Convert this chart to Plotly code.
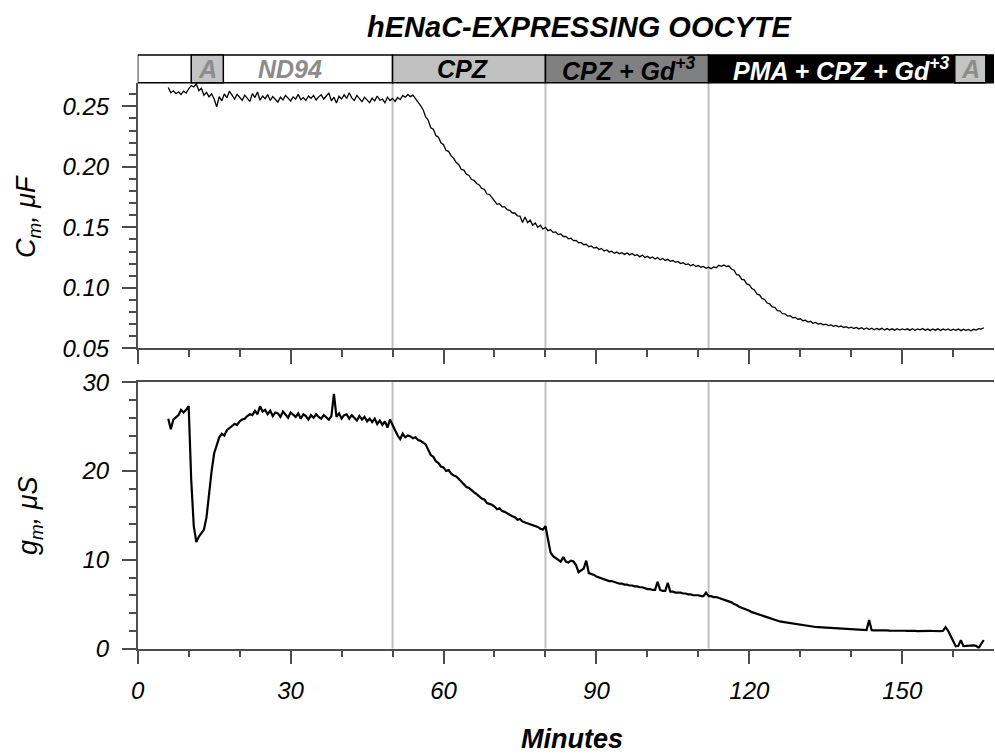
import numpy as np
import plotly.graph_objects as go

FONT = "Arial, 'Liberation Sans', sans-serif"

# Recording clock: samples every half minute starting at 6 min
T_START = 6.0
T_STEP = 0.5

# Membrane capacitance, uF (one row = 5 minutes)
cm_uF = [
    0.2655, 0.2612, 0.2628, 0.2604, 0.2619, 0.2598, 0.2625, 0.2610, 0.2645, 0.2672,
    0.2660, 0.2685, 0.2630, 0.2648, 0.2592, 0.2615, 0.2578, 0.2603, 0.2560, 0.2495,
    0.2580, 0.2545, 0.2602, 0.2570, 0.2625, 0.2588, 0.2560, 0.2598, 0.2575, 0.2550,
    0.2592, 0.2565, 0.2540, 0.2605, 0.2572, 0.2618, 0.2550, 0.2585, 0.2563, 0.2597,
    0.2548, 0.2580, 0.2560, 0.2535, 0.2575, 0.2552, 0.2590, 0.2568, 0.2545, 0.2578,
    0.2560, 0.2598, 0.2555, 0.2572, 0.2548, 0.2585, 0.2566, 0.2590, 0.2552, 0.2578,
    0.2595, 0.2560, 0.2582, 0.2610, 0.2545, 0.2575, 0.2528, 0.2583, 0.2560, 0.2595,
    0.2565, 0.2612, 0.2570, 0.2548, 0.2590, 0.2562, 0.2538, 0.2575, 0.2555, 0.2530,
    0.2568, 0.2545, 0.2585, 0.2550, 0.2560, 0.2530, 0.2575, 0.2548, 0.2565, 0.2540,
    0.2572, 0.2555, 0.2590, 0.2575, 0.2598, 0.2580, 0.2592, 0.2565, 0.2540, 0.2505,
    0.2472, 0.2412, 0.2385, 0.2322, 0.2310, 0.2258, 0.2245, 0.2198, 0.2182, 0.2135,
    0.2128, 0.2090, 0.2070, 0.2035, 0.2018, 0.1978, 0.1972, 0.1938, 0.1928, 0.1895,
    0.1888, 0.1862, 0.1850, 0.1822, 0.1815, 0.1775, 0.1772, 0.1740, 0.1718, 0.1690,
    0.1695, 0.1668, 0.1668, 0.1645, 0.1640, 0.1618, 0.1618, 0.1595, 0.1592, 0.1540,
    0.1585, 0.1538, 0.1560, 0.1518, 0.1535, 0.1500, 0.1518, 0.1485, 0.1500, 0.1472,
    0.1480, 0.1458, 0.1462, 0.1440, 0.1445, 0.1424, 0.1425, 0.1405, 0.1410, 0.1390,
    0.1392, 0.1372, 0.1375, 0.1356, 0.1360, 0.1340, 0.1346, 0.1328, 0.1335, 0.1316,
    0.1324, 0.1305, 0.1313, 0.1296, 0.1302, 0.1286, 0.1295, 0.1282, 0.1290, 0.1276,
    0.1288, 0.1272, 0.1284, 0.1266, 0.1274, 0.1256, 0.1270, 0.1250, 0.1260, 0.1245,
    0.1255, 0.1238, 0.1250, 0.1232, 0.1242, 0.1226, 0.1235, 0.1219, 0.1225, 0.1210,
    0.1218, 0.1200, 0.1208, 0.1192, 0.1198, 0.1183, 0.1192, 0.1176, 0.1184, 0.1170,
    0.1176, 0.1162, 0.1170, 0.1158, 0.1172, 0.1166, 0.1186, 0.1178, 0.1188, 0.1176,
    0.1180, 0.1155, 0.1145, 0.1108, 0.1104, 0.1070, 0.1066, 0.1032, 0.1024, 0.0994,
    0.0982, 0.0948, 0.0942, 0.0910, 0.0905, 0.0874, 0.0868, 0.0842, 0.0838, 0.0812,
    0.0810, 0.0786, 0.0785, 0.0766, 0.0770, 0.0752, 0.0756, 0.0740, 0.0744, 0.0728,
    0.0732, 0.0717, 0.0723, 0.0707, 0.0714, 0.0700, 0.0706, 0.0694, 0.0700, 0.0688,
    0.0694, 0.0681, 0.0689, 0.0677, 0.0684, 0.0672, 0.0679, 0.0667, 0.0675, 0.0664,
    0.0672, 0.0660, 0.0670, 0.0657, 0.0668, 0.0655, 0.0666, 0.0653, 0.0664, 0.0654,
    0.0665, 0.0651, 0.0663, 0.0652, 0.0661, 0.0650, 0.0662, 0.0651, 0.0660, 0.0652,
    0.0661, 0.0650, 0.0662, 0.0649, 0.0660, 0.0652, 0.0663, 0.0650, 0.0659, 0.0648,
    0.0660, 0.0650, 0.0661, 0.0648, 0.0659, 0.0651, 0.0660, 0.0647, 0.0658, 0.0649,
    0.0659, 0.0646, 0.0657, 0.0648, 0.0656, 0.0645, 0.0657, 0.0650, 0.0662, 0.0658,
    0.0670,
]

# Membrane conductance, uS (one row = 5 minutes)
gm_uS = [
    25.9, 24.7, 25.8, 26.0, 26.3, 26.9, 26.6, 26.9, 27.3, 19.0,
    13.8, 12.0, 12.6, 13.0, 13.4, 14.8, 17.8, 20.0, 22.0, 23.0,
    23.8, 24.2, 24.0, 24.6, 24.8, 25.0, 25.3, 25.2, 25.6, 25.8,
    25.9, 26.2, 26.4, 26.3, 26.8, 26.4, 27.3, 26.7, 26.9, 26.4,
    26.8, 26.2, 26.6, 26.5, 26.1, 26.7, 26.4, 26.0, 26.6, 26.3,
    26.1, 26.5, 25.9, 26.4, 26.2, 25.8, 26.3, 26.0, 26.4, 26.1,
    25.9, 26.3, 26.0, 25.8, 26.2, 28.7, 26.1, 26.5, 25.9, 26.3,
    26.4, 25.9, 26.3, 26.0, 25.7, 26.2, 25.8, 26.1, 25.6, 25.9,
    25.5, 25.9, 25.3, 25.7, 25.2, 25.6, 24.9, 25.8, 25.1, 24.6,
    24.0, 23.6, 24.2, 23.8, 24.0, 23.9, 23.7, 23.8, 23.5, 23.4,
    23.2, 23.0, 22.4, 21.8, 21.6, 21.1, 20.9, 20.5, 20.4, 20.0,
    20.1, 19.7, 19.5, 19.4, 19.1, 18.8, 18.6, 18.2, 18.1, 17.8,
    17.6, 17.4, 17.1, 16.9, 16.8, 16.4, 16.3, 16.2, 16.0, 15.7,
    15.8, 15.5, 15.4, 15.2, 15.0, 14.9, 14.8, 14.5, 14.6, 14.3,
    14.2, 14.1, 14.0, 13.9, 13.8, 13.7, 13.5, 13.4, 13.8, 12.4,
    10.8, 10.4, 10.2, 10.0, 9.8, 10.3, 9.8, 9.7, 9.9, 9.8,
    9.4, 8.6, 8.8, 9.0, 9.9, 8.5, 8.4, 8.3, 8.1, 8.0,
    7.9, 7.8, 7.7, 7.6, 7.6, 7.5, 7.4, 7.3, 7.3, 7.2,
    7.2, 7.1, 7.1, 7.0, 7.0, 6.9, 6.9, 6.8, 6.7, 6.7,
    6.6, 6.6, 7.5, 6.6, 6.5, 6.5, 7.4, 6.4, 6.4, 6.3,
    6.3, 6.3, 6.2, 6.2, 6.1, 6.1, 6.0, 6.0, 6.0, 5.9,
    5.9, 6.3, 5.9, 5.9, 5.8, 5.8, 5.7, 5.6, 5.5, 5.4,
    5.3, 5.2, 5.0, 4.9, 4.7, 4.6, 4.5, 4.4, 4.25, 4.1,
    4.0, 3.9, 3.8, 3.7, 3.6, 3.5, 3.4, 3.3, 3.2, 3.1,
    3.05, 3.0, 2.95, 2.9, 2.85, 2.8, 2.75, 2.7, 2.65, 2.6,
    2.56, 2.52, 2.5, 2.46, 2.42, 2.4, 2.38, 2.35, 2.33, 2.3,
    2.28, 2.26, 2.25, 2.23, 2.2, 2.19, 2.18, 2.16, 2.14, 2.13,
    2.12, 2.1, 2.11, 2.08, 2.07, 3.2, 2.06, 2.05, 2.06, 2.04,
    2.05, 2.03, 2.04, 2.02, 2.03, 2.01, 2.0, 2.02, 1.99, 2.0,
    1.98, 2.0, 1.97, 1.99, 1.96, 1.98, 1.97, 1.99, 1.96, 1.98,
    1.97, 1.95, 1.98, 1.96, 2.0, 2.4, 2.0, 1.4, 0.8, 0.25,
    0.3, 0.95, 0.26, 0.3, 0.28, 0.32, 0.35, 0.3, 0.05, 0.55,
    0.95,
]

# Solution changes (minutes)
solution_changes = [50, 80, 112]

# Perfusion bar: start, end, fill
bar_segments = [
    (0, 50, "white"),
    (50, 80, "#c0c0c0"),
    (80, 112, "#808080"),
    (112, 168, "black"),
    (10.5, 16.8, "#c4c4c4"),
    (160.3, 166.4, "#c4c4c4"),
]
bar_labels = ["A", "ND94", "CPZ", "CPZ + Gd<sup>+3</sup>", "PMA + CPZ + Gd<sup>+3</sup>", "A"]
bar_label_x = [13.65, 29.9, 63.8, 96.3, 138.0, 163.35]
bar_label_colors = ["#8c8c8c", "#8c8c8c", "black", "black", "white", "#8c8c8c"]

X_RANGE = [0, 168]
CM_RANGE = [0.05, 0.2695]
GM_RANGE = [0, 30]

t_cm = T_START + T_STEP * np.arange(len(cm_uF))
t_gm = T_START + T_STEP * np.arange(len(gm_uS))

W, H = 995, 755
X_DOM = [137.7 / W, 994 / W]
TOP_DOM = [1 - 348.3 / H, 1 - 82.7 / H]
BOT_DOM = [1 - 648.5 / H, 1 - 382.3 / H]
BAR_TOP = 1 - 55.0 / H

fig = go.Figure()
fig.add_trace(go.Scatter(x=t_cm, y=cm_uF, mode="lines",
                         line=dict(color="black", width=1.3),
                         xaxis="x", yaxis="y", showlegend=False))
fig.add_trace(go.Scatter(x=t_gm, y=gm_uS, mode="lines",
                         line=dict(color="black", width=2.2),
                         xaxis="x2", yaxis="y2", showlegend=False))

AX = "#4d4d4d"
tickfont = dict(family=FONT, size=24, color="black", style="italic")
common = dict(showline=True, linecolor=AX, linewidth=1.5, ticks="outside",
              ticklen=14, tickwidth=1.5, tickcolor=AX, showgrid=False,
              zeroline=False, tickfont=tickfont, automargin=False)
xcommon = dict(common, domain=X_DOM, range=X_RANGE, tickmode="linear",
               tick0=0, dtick=30,
               minor=dict(dtick=10, ticklen=7, ticks="outside",
                          tickcolor=AX, tickwidth=1.5, showgrid=False))

fig.update_layout(
    width=W, height=H, autosize=False,
    margin=dict(l=0, r=0, t=0, b=0),
    paper_bgcolor="white", plot_bgcolor="white",
    xaxis=dict(xcommon, anchor="y", showticklabels=False),
    xaxis2=dict(xcommon, anchor="y2", matches="x", showticklabels=True,
                mirror=True, ticklabelstandoff=6),
    yaxis=dict(common, domain=TOP_DOM, range=CM_RANGE, anchor="x",
               tickmode="linear", tick0=0.05, dtick=0.05, tickformat=".2f",
               ticklabelstandoff=8,
               minor=dict(dtick=0.01, ticklen=7, ticks="outside",
                          tickcolor=AX, tickwidth=1.5, showgrid=False)),
    yaxis2=dict(common, domain=BOT_DOM, range=GM_RANGE, anchor="x2",
                tickmode="linear", tick0=0, dtick=10, ticklabelstandoff=8,
                minor=dict(dtick=2, ticklen=7, ticks="outside",
                           tickcolor=AX, tickwidth=1.5, showgrid=False)),
)

shapes = []
# vertical markers at each solution change, in both panels
for t in solution_changes:
    for xr, yr in (("x", "y domain"), ("x2", "y2 domain")):
        shapes.append(dict(type="line", xref=xr, yref=yr, x0=t, x1=t, y0=0, y1=1,
                           line=dict(color="#c0c0c0", width=2), layer="below"))
# perfusion bar above the top panel
for x0, x1, fill in bar_segments:
    shapes.append(dict(type="rect", xref="x", yref="paper", x0=x0, x1=x1,
                       y0=TOP_DOM[1], y1=BAR_TOP, fillcolor=fill,
                       line=dict(color="black", width=1.5), layer="above"))
fig.update_layout(shapes=shapes)

annotations = []
bar_mid = (TOP_DOM[1] + BAR_TOP) / 2
for txt, xc, col in zip(bar_labels, bar_label_x, bar_label_colors):
    annotations.append(dict(text=txt, x=xc, xref="x", y=bar_mid, yref="paper",
                            xanchor="center", yanchor="middle", showarrow=False,
                            font=dict(family=FONT, size=25, color=col,
                                      weight="bold", style="italic")))
annotations += [
    dict(text="hENaC-EXPRESSING OOCYTE", x=579 / W, y=1 - 27 / H,
         xref="paper", yref="paper", xanchor="center", yanchor="middle",
         showarrow=False,
         font=dict(family=FONT, size=29, color="black", weight="bold", style="italic")),
    dict(text="C<sub>m</sub>, μF", x=28 / W, y=1 - 217 / H, xref="paper", yref="paper",
         xanchor="center", yanchor="middle", textangle=-90, showarrow=False,
         font=dict(family=FONT, size=27, color="black", style="italic")),
    dict(text="g<sub>m</sub>, μS", x=30 / W, y=1 - 516 / H, xref="paper", yref="paper",
         xanchor="center", yanchor="middle", textangle=-90, showarrow=False,
         font=dict(family=FONT, size=27, color="black", style="italic")),
    dict(text="Minutes", x=572 / W, y=1 - 739 / H, xref="paper", yref="paper",
         xanchor="center", yanchor="middle", showarrow=False,
         font=dict(family=FONT, size=27, color="black", weight="bold", style="italic")),
]
fig.update_layout(annotations=annotations)

fig.write_html("out.html")
